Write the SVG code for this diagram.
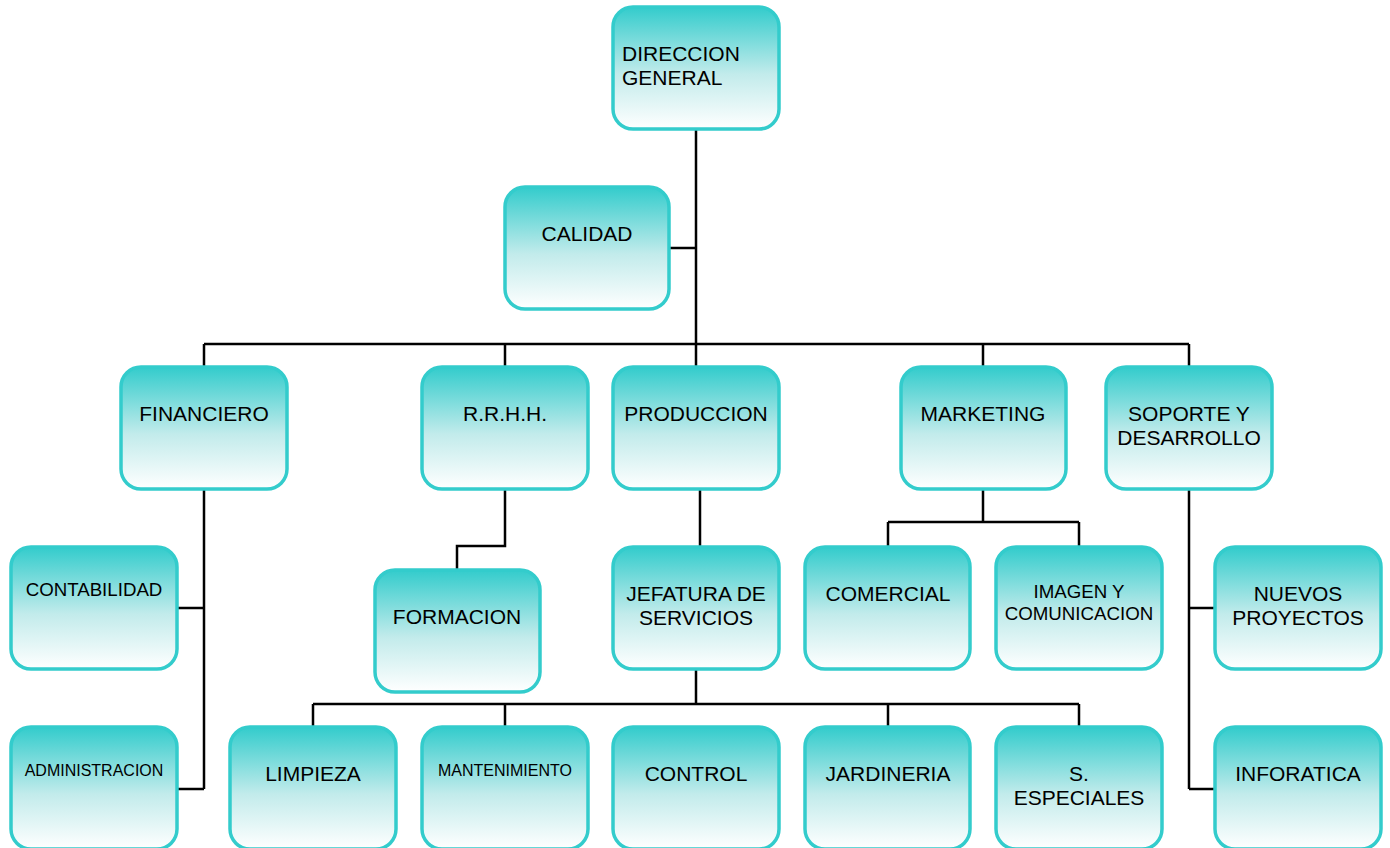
<svg xmlns="http://www.w3.org/2000/svg" width="1390" height="848" viewBox="0 0 1390 848">
<defs>
<linearGradient id="g" x1="0" y1="0" x2="0" y2="1">
<stop offset="0" stop-color="#33CCCC"/>
<stop offset="0.55" stop-color="#C2EBEB"/>
<stop offset="1" stop-color="#FFFFFF"/>
</linearGradient>
</defs>
<style>
.b{fill:url(#g);stroke:#33CCCC;stroke-width:3.5}
.t{font-family:"Liberation Sans",Arial,sans-serif;font-size:21px;fill:#000;text-anchor:middle}
.s{font-size:18.7px}
.xs{font-size:16px}
.c{fill:none;stroke:#000;stroke-width:2.5}
</style>
<rect width="1390" height="848" fill="#fff"/>
<g id="connectors">
<path class="c" d="M696 129V344M669 248H696M204 344H1189M204 344V367M505 344V367M696 344V367M983 344V367M1189 344V367"/>
<path class="c" d="M204 489V789M177 608H204M177 789H204"/>
<path class="c" d="M505 489V546H457V570"/>
<path class="c" d="M700 489V547"/>
<path class="c" d="M696 669V704M313 704H1079M313 704V727M505 704V727M888 704V727M1079 704V727"/>
<path class="c" d="M983 489V522M888 522H1079M888 522V547M1079 522V547"/>
<path class="c" d="M1189 489V789M1189 608H1215M1189 789H1215"/>
</g>
<g id="direccion"><rect class="b" x="613" y="7" width="166" height="122" rx="20"/><text class="t" x="622" y="61" style="text-anchor:start">DIRECCION</text><text class="t" x="622" y="85" style="text-anchor:start">GENERAL</text></g>
<g id="calidad"><rect class="b" x="505" y="187" width="164" height="122" rx="20"/><text class="t" x="587" y="241">CALIDAD</text></g>
<g id="financiero"><rect class="b" x="121" y="367" width="166" height="122" rx="20"/><text class="t" x="204" y="421">FINANCIERO</text></g>
<g id="rrhh"><rect class="b" x="422" y="367" width="166" height="122" rx="20"/><text class="t" x="505" y="421">R.R.H.H.</text></g>
<g id="produccion"><rect class="b" x="613" y="367" width="166" height="122" rx="20"/><text class="t" x="696" y="421">PRODUCCION</text></g>
<g id="marketing"><rect class="b" x="901" y="367" width="165" height="122" rx="20"/><text class="t" x="983" y="421">MARKETING</text></g>
<g id="soporte"><rect class="b" x="1106" y="367" width="166" height="122" rx="20"/><text class="t" x="1189" y="421">SOPORTE Y</text><text class="t" x="1189" y="445">DESARROLLO</text></g>
<g id="contabilidad"><rect class="b" x="11" y="547" width="166" height="122" rx="20"/><text class="t s" x="94" y="596">CONTABILIDAD</text></g>
<g id="administracion"><rect class="b" x="11" y="727" width="166" height="122" rx="20"/><text class="t xs" x="94" y="776">ADMINISTRACION</text></g>
<g id="formacion"><rect class="b" x="375" y="570" width="165" height="122" rx="20"/><text class="t" x="457" y="624">FORMACION</text></g>
<g id="jefatura"><rect class="b" x="613" y="547" width="166" height="122" rx="20"/><text class="t" x="696" y="601">JEFATURA DE</text><text class="t" x="696" y="625">SERVICIOS</text></g>
<g id="comercial"><rect class="b" x="805" y="547" width="165" height="122" rx="20"/><text class="t" x="888" y="601">COMERCIAL</text></g>
<g id="imagen"><rect class="b" x="996" y="547" width="166" height="122" rx="20"/><text class="t s" x="1079" y="598">IMAGEN Y</text><text class="t s" x="1079" y="620">COMUNICACION</text></g>
<g id="nuevos"><rect class="b" x="1215" y="547" width="166" height="122" rx="20"/><text class="t" x="1298" y="601">NUEVOS</text><text class="t" x="1298" y="625">PROYECTOS</text></g>
<g id="limpieza"><rect class="b" x="230" y="727" width="166" height="122" rx="20"/><text class="t" x="313" y="781">LIMPIEZA</text></g>
<g id="mantenimiento"><rect class="b" x="422" y="727" width="166" height="122" rx="20"/><text class="t xs" x="505" y="776">MANTENIMIENTO</text></g>
<g id="control"><rect class="b" x="613" y="727" width="166" height="122" rx="20"/><text class="t" x="696" y="781">CONTROL</text></g>
<g id="jardineria"><rect class="b" x="805" y="727" width="165" height="122" rx="20"/><text class="t" x="888" y="781">JARDINERIA</text></g>
<g id="especiales"><rect class="b" x="996" y="727" width="166" height="122" rx="20"/><text class="t" x="1079" y="781">S.</text><text class="t" x="1079" y="805">ESPECIALES</text></g>
<g id="inforatica"><rect class="b" x="1215" y="727" width="166" height="122" rx="20"/><text class="t" x="1298" y="781">INFORATICA</text></g>
</svg>
